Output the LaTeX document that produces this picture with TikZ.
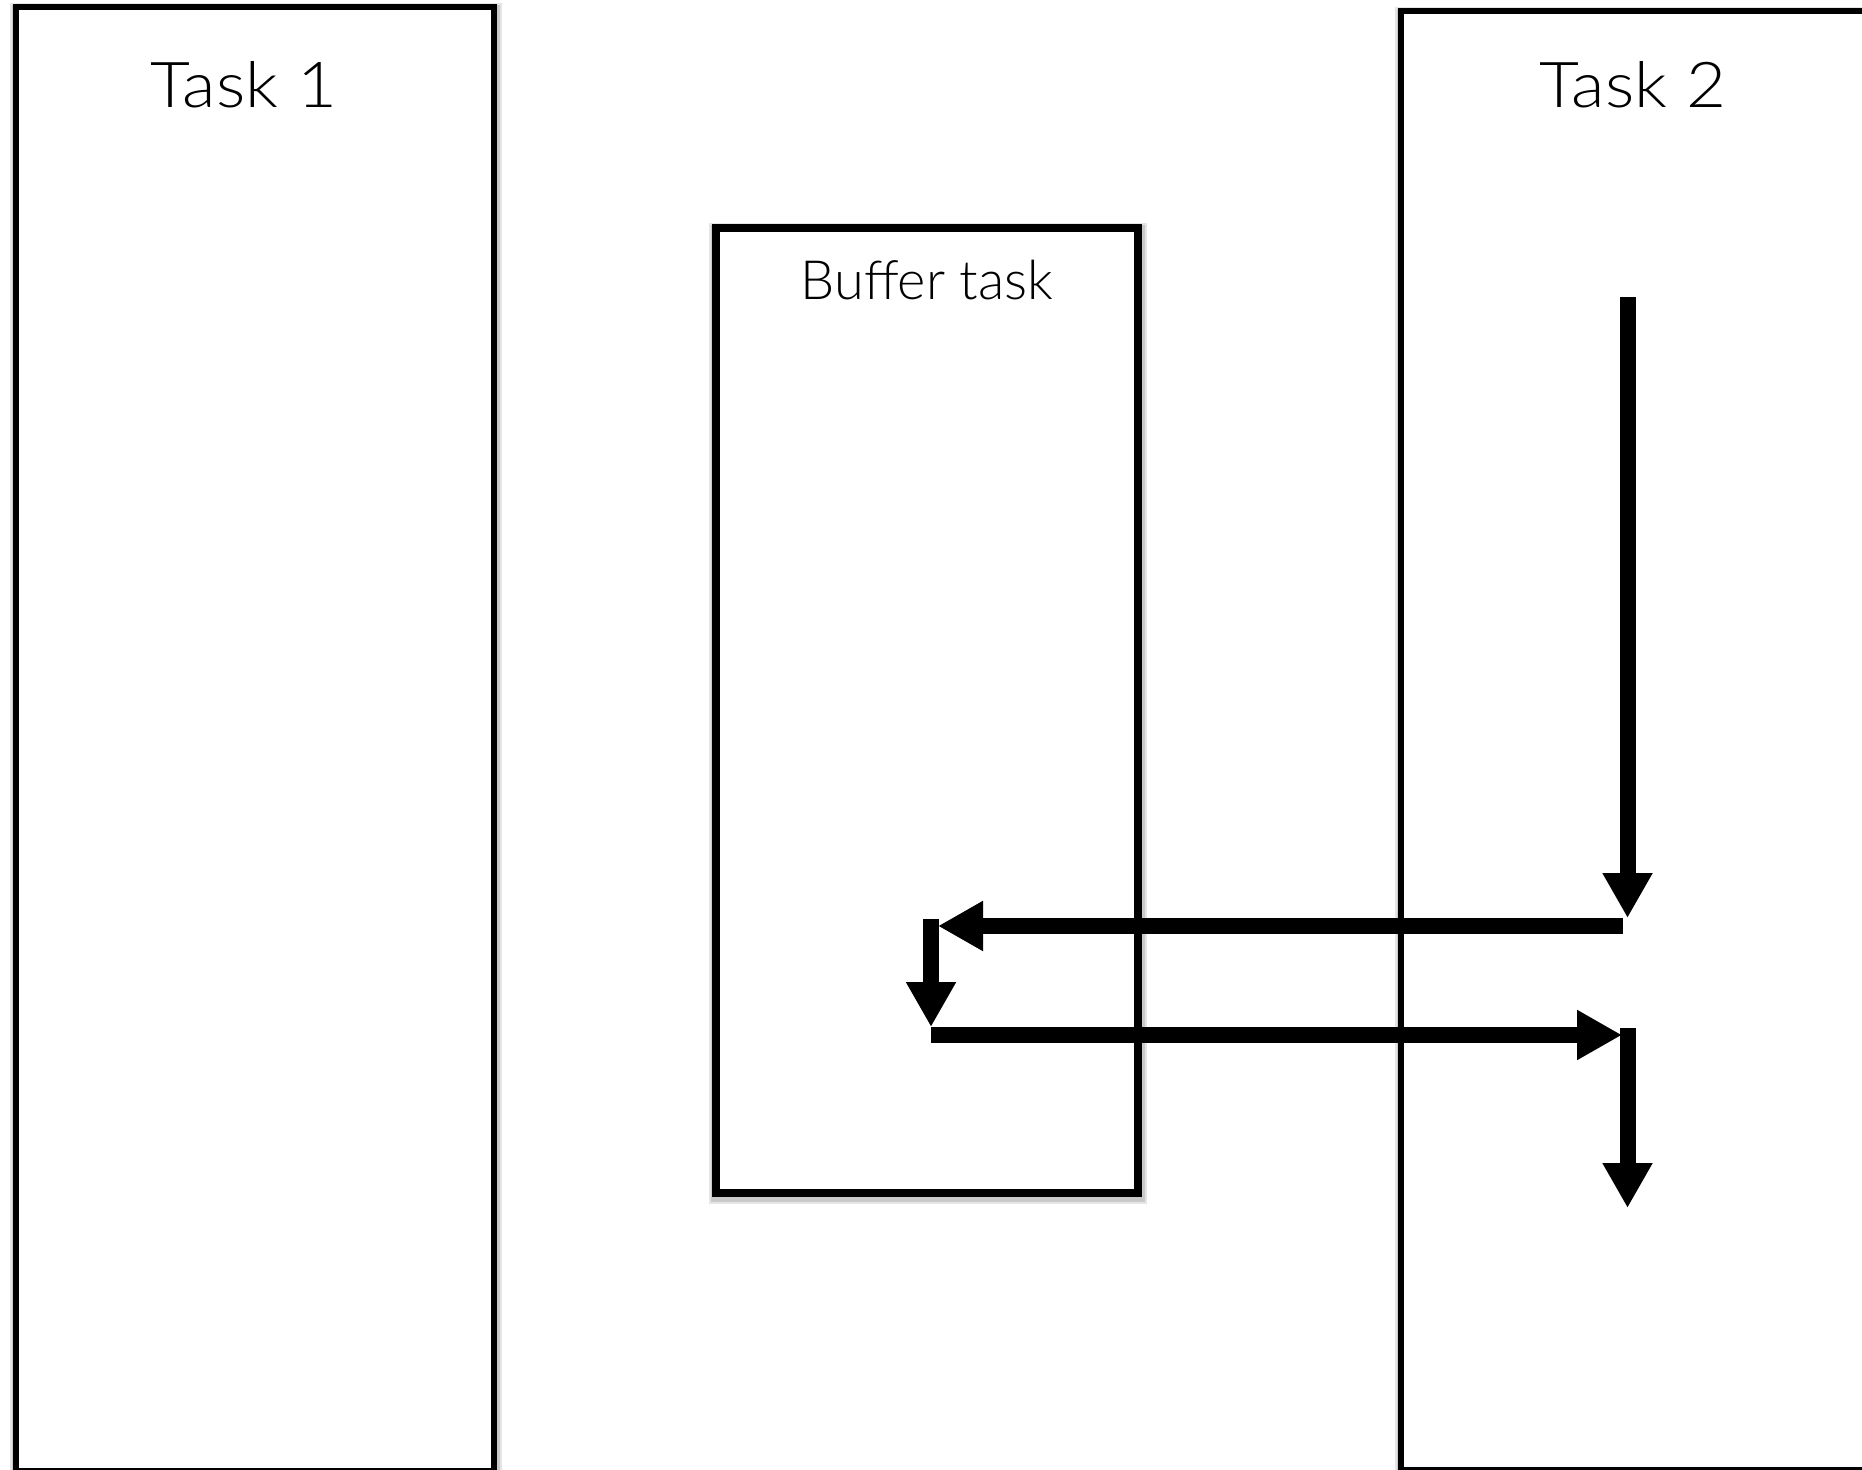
\documentclass[tikz,border=0pt]{standalone}
\usepackage{fontspec}
\setmainfont{Lato}[UprightFont={* Light}]
\newfontfamily\titlefont{Lato}[UprightFont={* Light}, FakeStretch=1.09]
\usetikzlibrary{arrows.meta}
\begin{document}
\begin{tikzpicture}[
  x=1cm, y=1cm,
  softshadow/.style={
    preaction={draw=black, draw opacity=0.10, line width=#1+0.08cm,
               transform canvas={shift={(0.01cm,-0.03cm)}}},
    preaction={draw=black, draw opacity=0.12, line width=#1+0.03cm,
               transform canvas={shift={(0.01cm,-0.03cm)}}}},
  taskbox/.style={rectangle, draw=black, fill=white, line width=0.065cm,
    inner sep=0pt, outer sep=0pt, anchor=north west, softshadow=0.065cm},
  bufbox/.style={rectangle, draw=black, fill=white, line width=0.085cm,
    inner sep=0pt, outer sep=0pt, anchor=north west, softshadow=0.085cm},
  biglabel/.style={anchor=base, inner sep=0pt, font=\titlefont\fontsize{18pt}{20pt}\selectfont},
  smalllabel/.style={anchor=base, inner sep=0pt, font=\fontsize{15.4pt}{18pt}\selectfont},
  flow/.style={line width=0.16cm, line cap=butt,
    -{Triangle[width=0.47cm, length=0.45cm]}}
]
\useasboundingbox (0,0) rectangle (18.62,-14.70);
\clip (0,0) rectangle (18.62,-14.70);

% task lanes and the buffer task
\node[taskbox, minimum width=4.78cm, minimum height=14.64cm] (t1) at (0.16,-0.07) {};
\node[taskbox, minimum width=4.80cm, minimum height=14.595cm] (t2) at (14.01,-0.11) {};
\node[bufbox, minimum width=4.22cm, minimum height=9.65cm] (buf) at (7.16,-2.28) {};

% titles
\node[biglabel] (t1title) at (2.44,-1.08) {Task\hspace{0.3em}1};
\node[biglabel] (t2title) at (16.33,-1.08) {Task\hspace{0.3em}2};
\node[smalllabel] (buftitle) at (9.27,-3.00) {Buffer task};

% end points of the flow
\coordinate (p1) at (16.275,-2.97);
\coordinate (p2) at (16.275,-9.18);
\coordinate (p3) at (16.23,-9.26);
\coordinate (p4) at (9.38,-9.26);
\coordinate (p5) at (9.31,-9.19);
\coordinate (p6) at (9.31,-10.27);
\coordinate (p7) at (9.31,-10.35);
\coordinate (p8) at (16.22,-10.35);
\coordinate (p9) at (16.275,-10.28);
\coordinate (p10) at (16.275,-12.08);

% control flow
\draw[flow] (p1) -- (p2);
\draw[flow] (p3) -- (p4);
\draw[flow] (p5) -- (p6);
\draw[flow] (p7) -- (p8);
\draw[flow] (p9) -- (p10);
\end{tikzpicture}
\end{document}
